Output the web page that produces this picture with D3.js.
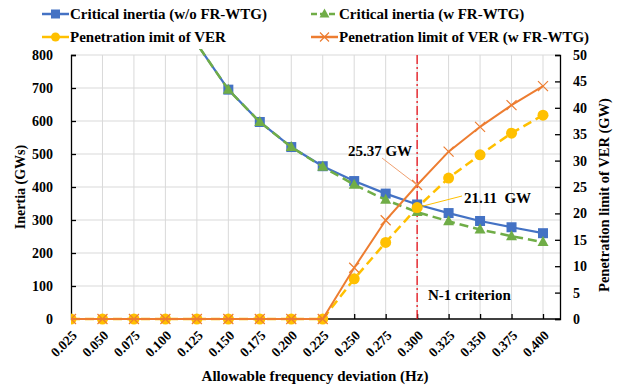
<!DOCTYPE html>
<html><head><meta charset="utf-8">
<script src="https://cdn.jsdelivr.net/npm/d3@7"></script>
<style>body{margin:0;background:#fff}svg{display:block}text{font-family:"Liberation Serif","Times New Roman",serif;font-weight:bold}</style>
</head><body><svg id="c" width="622" height="388"></svg>
<script>
const categories = ["0.025","0.050","0.075","0.100","0.125","0.150","0.175","0.200","0.225","0.250","0.275","0.300","0.325","0.350","0.375","0.400"];
const inertiaWithout = [4170, 2085, 1390, 1042, 834, 695, 597, 521, 463, 418, 380, 347, 321, 297, 278, 260];
const inertiaWith = [4170, 2085, 1390, 1042, 834, 695, 597, 521, 461, 407, 361, 324, 296, 271, 251, 233];
const penVER = [0, 0, 0, 0, 0, 0, 0, 0, 0, 7.6, 14.5, 21.11, 26.7, 31.1, 35.2, 38.6];
const penVERw = [0, 0, 0, 0, 0, 0, 0, 0, 0, 9.7, 18.7, 25.37, 31.7, 36.4, 40.5, 44.1];
const leftTicks = [0, 100, 200, 300, 400, 500, 600, 700, 800];
const rightTicks = [0, 5, 10, 15, 20, 25, 30, 35, 40, 45, 50];
const seriesNames = ["Critical inertia (w/o FR-WTG)", "Critical inertia (w FR-WTG)", "Penetration imit of VER", "Penetration limit of VER (w FR-WTG)"];
const criterion = "0.300";

const svg = d3.select("#c");
const L = 71, R = 560, T = 55, B = 319;
const xIdx = d3.scaleLinear().domain([0, 15]).range([L, 543]);
const x = c => xIdx(categories.indexOf(c));
const yL = d3.scaleLinear().domain([0, 800]).range([B, T]);
const yR = d3.scaleLinear().domain([0, 50]).range([B, T]);

const blue = "#4472C4", green = "#70AD47", yellow = "#FFC000", orange = "#ED7D31";
const FF = '"Liberation Serif","Times New Roman",serif';

svg.append("defs").append("clipPath").attr("id", "pc")
  .append("rect").attr("x", L).attr("y", T - 6).attr("width", R - L).attr("height", B - T + 12);

// grid
const g = svg.append("g");
g.selectAll(".hg").data(leftTicks.slice(1)).join("line")
  .attr("x1", L).attr("x2", R).attr("y1", d => yL(d)).attr("y2", d => yL(d))
  .attr("stroke", "#d9d9d9").attr("stroke-width", 1);
g.selectAll(".vg").data(categories.slice(1)).join("line")
  .attr("x1", d => x(d)).attr("x2", d => x(d)).attr("y1", T).attr("y2", B)
  .attr("stroke", "#d9d9d9").attr("stroke-width", 1);

// axes
const axL = d3.axisLeft(yL).tickValues(leftTicks).tickSizeInner(-5).tickSizeOuter(-5).tickPadding(18);
const axR = d3.axisRight(yR).tickValues(rightTicks).tickSizeInner(-5).tickSizeOuter(-5).tickPadding(13);
const axB = d3.axisBottom(xIdx).tickValues(d3.range(0, 16)).tickSize(-5).tickSizeOuter(0).tickFormat(i => categories[i]);

const gl = svg.append("g").attr("transform", `translate(${L},0)`).call(axL);
const gr = svg.append("g").attr("transform", `translate(${R},0)`).call(axR);
const gb = svg.append("g").attr("transform", `translate(0,${B})`).call(axB);
svg.append("line").attr("x1", L).attr("x2", R).attr("y1", B).attr("y2", B).attr("stroke", "#000").attr("stroke-width", 1.3);
[gl, gr, gb].forEach(a => {
  a.selectAll("path,line").attr("stroke", "#000").attr("stroke-width", 1.3);
  a.selectAll("text").attr("fill", "#000").style("font-size", "14px").style("font-family", FF).style("font-weight", "bold");
});
gb.select(".domain").remove();
gb.selectAll(".tick line").filter((d, i) => i === 0).remove();
gb.selectAll("text").attr("text-anchor", "end").attr("dy", "0.35em")
  .attr("transform", "translate(3,14) rotate(-45)").attr("y", 0).attr("x", 0).style("font-size", "13.5px");

// N-1 line
svg.append("line").attr("x1", x(criterion)).attr("x2", x(criterion)).attr("y1", T).attr("y2", B)
  .attr("stroke", "#e8141b").attr("stroke-width", 1.3).attr("stroke-dasharray", "9,3,2,3");

const plot = svg.append("g").attr("clip-path", "url(#pc)");
const idx = d3.range(categories.length);
const lineL = arr => d3.line().x(i => xIdx(i)).y(i => yL(arr[i]))(idx);
const lineR = arr => d3.line().x(i => xIdx(i)).y(i => yR(arr[i]))(idx);

function square(gg, cx, cy, s, col) { gg.append("rect").attr("x", cx - s / 2).attr("y", cy - s / 2).attr("width", s).attr("height", s).attr("fill", col); }
function tri(gg, cx, cy, s, col) { gg.append("path").attr("d", `M${cx},${cy - s * 0.6}L${cx + s * 0.55},${cy + s * 0.4}L${cx - s * 0.55},${cy + s * 0.4}Z`).attr("fill", col); }
function circ(gg, cx, cy, r, col) { gg.append("circle").attr("cx", cx).attr("cy", cy).attr("r", r).attr("fill", col); }
function cross(gg, cx, cy, s, col) { gg.append("path").attr("d", `M${cx - s},${cy - s}L${cx + s},${cy + s}M${cx - s},${cy + s}L${cx + s},${cy - s}`).attr("stroke", col).attr("stroke-width", 1.2).attr("fill", "none"); }

// blue
plot.append("path").attr("d", lineL(inertiaWithout)).attr("fill", "none").attr("stroke", blue).attr("stroke-width", 2.25);
idx.forEach(i => { if (inertiaWithout[i] <= 800) square(plot, xIdx(i), yL(inertiaWithout[i]), 10, blue); });
// green
plot.append("path").attr("d", lineL(inertiaWith)).attr("fill", "none").attr("stroke", green).attr("stroke-width", 2.5).attr("stroke-dasharray", "9,5");
idx.forEach(i => { if (inertiaWith[i] <= 800) tri(plot, xIdx(i), yL(inertiaWith[i]), 10, green); });
// yellow
plot.append("path").attr("d", lineR(penVER)).attr("fill", "none").attr("stroke", yellow).attr("stroke-width", 2.5).attr("stroke-dasharray", "9,5");
idx.forEach(i => circ(plot, xIdx(i), yR(penVER[i]), 5.5, yellow));
// orange
plot.append("path").attr("d", lineR(penVERw)).attr("fill", "none").attr("stroke", orange).attr("stroke-width", 2);
idx.forEach(i => cross(plot, xIdx(i), yR(penVERw[i]), 5, orange));

// annotations
const p1x = x(criterion), p1y = yR(penVERw[11]);
svg.append("line").attr("x1", 382).attr("y1", 158).attr("x2", p1x).attr("y2", p1y).attr("stroke", "#f0a070").attr("stroke-width", 1);
svg.append("text").attr("x", 380).attr("y", 156).attr("text-anchor", "middle").style("font-size", "15px").text("25.37 GW");
const p2y = yR(penVER[11]);
svg.append("line").attr("x1", 462).attr("y1", 196).attr("x2", p1x).attr("y2", p2y).attr("stroke", yellow).attr("stroke-width", 1);
svg.append("text").attr("x", 464).attr("y", 203).style("font-size", "15px").attr("xml:space", "preserve").text("21.11  GW");
svg.append("text").attr("x", 428).attr("y", 300).style("font-size", "15px").text("N-1 criterion");

// axis titles
svg.append("text").attr("transform", "translate(25,187) rotate(-90)").attr("text-anchor", "middle").style("font-size", "14px").text("Inertia (GWs)");
svg.append("text").attr("transform", "translate(609,195) rotate(-90)").attr("text-anchor", "middle").style("font-size", "14.5px").text("Penetration limit of VER (GW)");
svg.append("text").attr("x", 315).attr("y", 381).attr("text-anchor", "middle").style("font-size", "15px").text("Allowable frequency deviation (Hz)");

// legend
const lg = svg.append("g");
const items = [
  {n: seriesNames[0], c: blue, m: "sq", dash: null, px: 42, py: 14},
  {n: seriesNames[1], c: green, m: "tri", dash: "6,3", px: 311, py: 14},
  {n: seriesNames[2], c: yellow, m: "circ", dash: null, px: 42, py: 37},
  {n: seriesNames[3], c: orange, m: "x", dash: null, px: 311, py: 37}
];
items.forEach(it => {
  lg.append("line").attr("x1", it.px).attr("x2", it.px + 27).attr("y1", it.py).attr("y2", it.py)
    .attr("stroke", it.c).attr("stroke-width", 2.5).attr("stroke-dasharray", it.dash);
  const cx = it.px + 13.5;
  if (it.m === "sq") square(lg, cx, it.py, 9, it.c);
  if (it.m === "tri") tri(lg, cx, it.py, 9, it.c);
  if (it.m === "circ") circ(lg, cx, it.py, 4.5, it.c);
  if (it.m === "x") cross(lg, cx, it.py, 4.5, it.c);
  lg.append("text").attr("x", it.px + 28).attr("y", it.py + 5).style("font-size", "15px").text(it.n);
});
</script></body></html>
